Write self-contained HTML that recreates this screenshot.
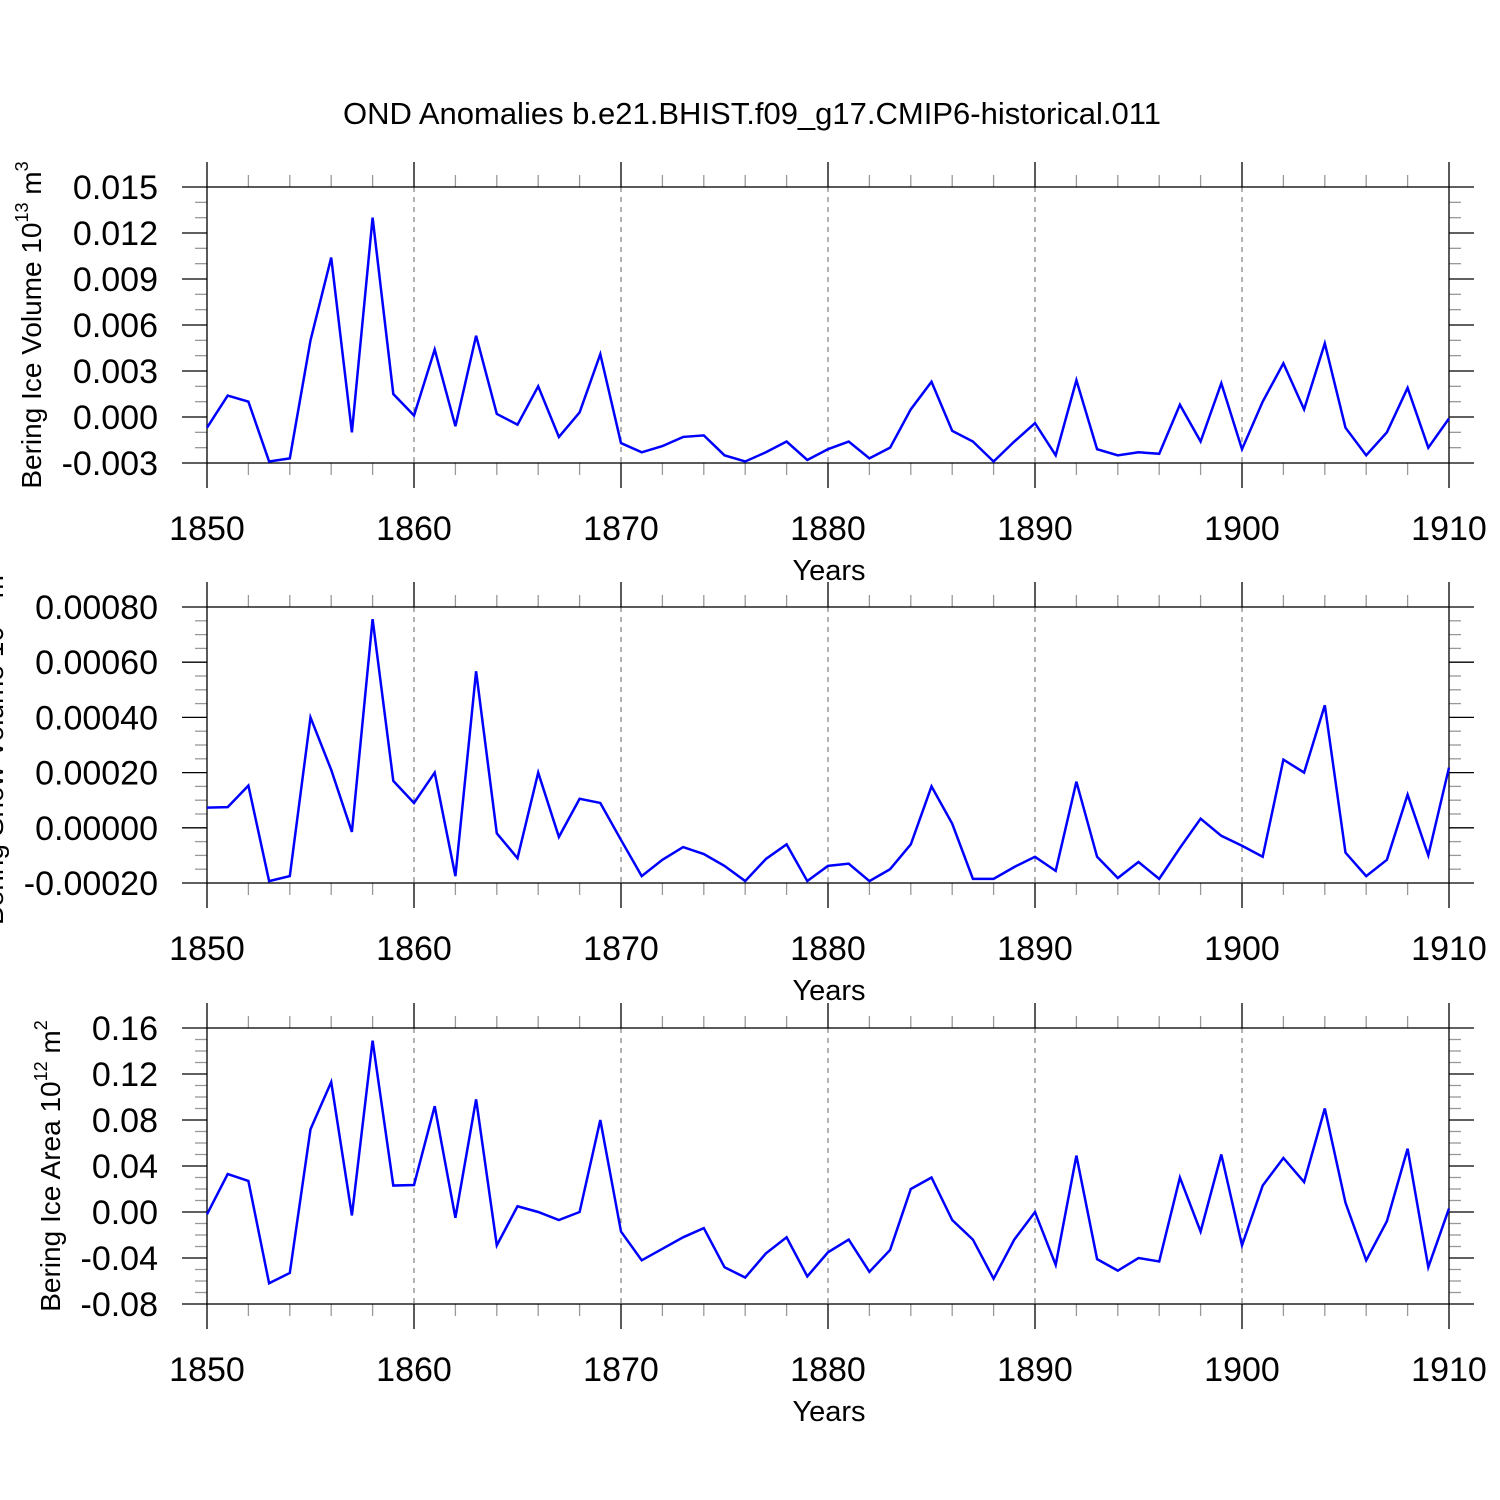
<!DOCTYPE html>
<html><head><meta charset="utf-8"><style>
body{margin:0;background:#fff}
svg{display:block}
text{font-family:"Liberation Sans",sans-serif;fill:#000}
</style></head><body>
<svg id="chart" width="1500" height="1500" viewBox="0 0 1500 1500" xmlns="http://www.w3.org/2000/svg">
<text x="752" y="124" font-size="31" text-anchor="middle">OND Anomalies b.e21.BHIST.f09_g17.CMIP6-historical.011</text>
</svg>
<script>
const years = [];
for (let y = 1850; y <= 1910; y++) years.push(y);
const iceVolume = [-0.0007,0.0014,0.0010,-0.0029,-0.0027,0.0050,0.0104,-0.0010,0.0130,0.0015,0.0001,0.0044,-0.0006,0.0053,0.0002,-0.0005,0.0020,-0.0013,0.0003,0.0041,-0.0017,-0.0023,-0.0019,-0.0013,-0.0012,-0.0025,-0.0029,-0.0023,-0.0016,-0.0028,-0.0021,-0.0016,-0.0027,-0.0020,0.0005,0.0023,-0.0009,-0.0016,-0.0029,-0.0016,-0.0004,-0.0025,0.0024,-0.0021,-0.0025,-0.0023,-0.0024,0.0008,-0.0016,0.0022,-0.0021,0.0010,0.0035,0.0005,0.0048,-0.0007,-0.0025,-0.0010,0.0019,-0.0020,-0.0001];
const snowVolume = [0.000073,0.000075,0.000153,-0.000193,-0.000175,0.00040,0.00021,-0.000015,0.000756,0.00017,0.00009,0.00020,-0.000175,0.000567,-0.00002,-0.00011,0.00020,-0.000033,0.000105,0.00009,-0.000044,-0.000175,-0.000116,-0.00007,-0.000095,-0.000138,-0.000193,-0.000113,-0.00006,-0.000193,-0.000138,-0.00013,-0.000193,-0.00015,-0.00006,0.00015,0.000015,-0.000185,-0.000185,-0.000142,-0.000105,-0.000156,0.000167,-0.000105,-0.000182,-0.000124,-0.000185,-0.000073,0.000033,-0.000029,-0.000065,-0.000105,0.000247,0.00020,0.000444,-0.00009,-0.000175,-0.000116,0.00012,-0.0001,0.000218];
const iceArea = [-0.002,0.033,0.027,-0.062,-0.053,0.072,0.113,-0.003,0.149,0.023,0.0235,0.092,-0.005,0.098,-0.029,0.005,0.000,-0.007,0.000,0.080,-0.017,-0.042,-0.032,-0.022,-0.014,-0.048,-0.057,-0.036,-0.022,-0.056,-0.035,-0.024,-0.052,-0.033,0.020,0.030,-0.007,-0.024,-0.058,-0.024,0.000,-0.046,0.049,-0.041,-0.051,-0.040,-0.043,0.030,-0.017,0.050,-0.029,0.023,0.047,0.026,0.090,0.008,-0.042,-0.008,0.055,-0.048,0.003];
const xTickLabels = ["1850","1860","1870","1880","1890","1900","1910"];
const yTicks1 = [-0.003,0,0.003,0.006,0.009,0.012,0.015];
const yTickLabels1 = ["-0.003","0.000","0.003","0.006","0.009","0.012","0.015"];
const yTicks2 = [-0.0002,0,0.0002,0.0004,0.0006,0.0008];
const yTickLabels2 = ["-0.00020","0.00000","0.00020","0.00040","0.00060","0.00080"];
const yTicks3 = [-0.08,-0.04,0,0.04,0.08,0.12,0.16];
const yTickLabels3 = ["-0.08","-0.04","0.00","0.04","0.08","0.12","0.16"];

const svg = document.getElementById('chart');
const NS = 'http://www.w3.org/2000/svg';
function mk(tag, attrs, parent){const e=document.createElementNS(NS,tag);for(const k in attrs)e.setAttribute(k,attrs[k]);(parent||svg).appendChild(e);return e;}
const X0=207,X1=1449;
const xs = y => X0 + (y-1850)/(60)*(X1-X0);

function panel(idx, top, data, ticks, labels, minorDiv, ylabelHTML, ylx){
  const bot = top+276;
  const ymin = ticks[0], ymax = ticks[ticks.length-1];
  const ys = v => bot - (v-ymin)/(ymax-ymin)*(bot-top);
  const g = mk('g',{});
  
  
  for (let yr=1860; yr<=1900; yr+=10){
    const l=mk('line',{x1:xs(yr),x2:xs(yr),y1:top,y2:bot,stroke:'#666','stroke-width':1,'stroke-dasharray':'5,5'},g);
    
    
  }
  for (let yr=1850; yr<=1910; yr+=2){
    const major = (yr%10===0);
    const len = major?25:12;
    mk('line',{x1:xs(yr),x2:xs(yr),y1:top-len,y2:top,stroke:major?'#000':'#999','stroke-width':1.3},g);
    mk('line',{x1:xs(yr),x2:xs(yr),y1:bot,y2:bot+len,stroke:major?'#000':'#999','stroke-width':1.3},g);
  }
  xTickLabels.forEach((t,i)=>{
    const tx=mk('text',{x:xs(1850+i*10),y:bot+77,'font-size':34,'text-anchor':'middle'},g);
    
    
    tx.textContent=t;
  });
  const xt=mk('text',{x:829,y:bot+117,'font-size':29,'text-anchor':'middle'},g);
  
  
  xt.textContent='Years';
  for (let i=0;i<ticks.length;i++){
    const yv=ys(ticks[i]);
    mk('line',{x1:X0-25,x2:X0,y1:yv,y2:yv,stroke:'#000','stroke-width':1.3},g);
    mk('line',{x1:X1,x2:X1+25,y1:yv,y2:yv,stroke:'#000','stroke-width':1.3},g);
    if(i<ticks.length-1){
      for(let m=1;m<minorDiv;m++){
        const ym=ys(ticks[i]+(ticks[i+1]-ticks[i])*m/minorDiv);
        mk('line',{x1:X0-12,x2:X0,y1:ym,y2:ym,stroke:'#999','stroke-width':1.3},g);
        mk('line',{x1:X1,x2:X1+12,y1:ym,y2:ym,stroke:'#999','stroke-width':1.3},g);
      }
    }
    const tl=mk('text',{x:158,y:yv+12,'font-size':34,'text-anchor':'end'},g);
    
    
    tl.textContent=labels[i];
  }
  const fr=mk('rect',{x:X0,y:top,width:X1-X0,height:bot-top,fill:'none',stroke:'#000','stroke-width':1.3},g);
  
  
  const pts=data.map((v,i)=>xs(years[i])+','+ys(v)).join(' ');
  const pl=mk('polyline',{points:pts,fill:'none',stroke:'#0000ff','stroke-width':2.5,'stroke-linejoin':'miter'},g);
  
  
  const yt=mk('text',{x:0,y:0,'font-size':28,'text-anchor':'middle',transform:`translate(${ylx},${(top+bot)/2}) rotate(-90)`},g);
  
  
  yt.innerHTML=ylabelHTML;
}
panel(1,187,iceVolume,yTicks1,yTickLabels1,3,'Bering Ice Volume 10<tspan font-size="18" dy="-13">13</tspan><tspan dy="13"> m</tspan><tspan font-size="18" dy="-13">3</tspan>',41);
panel(2,607,snowVolume,yTicks2,yTickLabels2,4,'Bering Snow Volume 10<tspan font-size="18" dy="-13">13</tspan><tspan dy="13"> m</tspan><tspan font-size="18" dy="-13">3</tspan>',3);
panel(3,1028,iceArea,yTicks3,yTickLabels3,4,'Bering Ice Area 10<tspan font-size="18" dy="-13">12</tspan><tspan dy="13"> m</tspan><tspan font-size="18" dy="-13">2</tspan>',60);
</script>
</body></html>
